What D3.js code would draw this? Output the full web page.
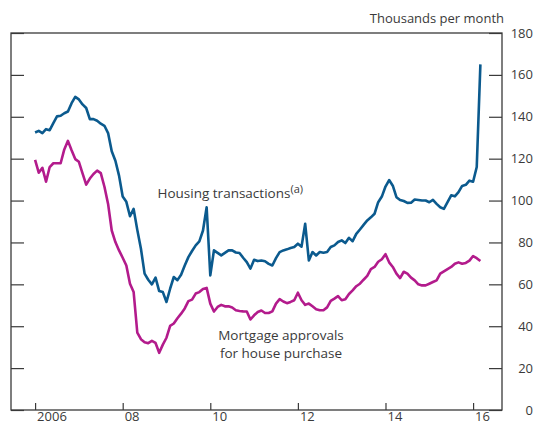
<!DOCTYPE html>
<html>
<head>
<meta charset="utf-8">
<script src="https://cdn.jsdelivr.net/npm/d3@7"></script>
<style>
  body { margin: 0; background: #fff; }
  text { font-family: "Open Sans", sans-serif; fill: #3a3a3a; }
</style>
</head>
<body>
<svg id="chart" width="536" height="430"></svg>
<script>
// monthly, Jan 2006 - Mar 2016 (thousands per month)
var startYear = 2006;

var housingTransactions = [
  132.5, 133.3, 132.2, 134.1, 133.6, 137, 140.2, 140.5, 141.7, 142.5, 146.5, 149.5,
  148.3, 145.9, 144.2, 138.9, 138.9, 138.1, 136.7, 135.7, 132.2, 123.5, 119, 111.9,
  101.9, 99.4, 92.5, 96, 86, 77, 65.1, 62.2, 60, 63.2, 56.8, 56.3,
  51.6, 57.9, 63.5, 62, 64.6, 69, 73, 75.9, 78.6, 80.5, 85.7, 96.8,
  64.3, 76.2, 75, 73.8, 75, 76.2, 76.2, 75.2, 75, 72.7, 70.6, 67.5,
  71.7, 71.1, 71.4, 71, 69.8, 69, 72.5, 75.4, 76.2, 76.7, 77.3, 77.8,
  79.4, 78, 88.9, 71.4, 75.4, 73.8, 75.4, 75.1, 75.4, 77.8, 78.6, 80.2,
  81, 79.7, 82.2, 80.6, 84.1, 86.2, 88.4, 90.5, 92, 93.7, 99.2, 101.9,
  106.7, 109.8, 107.1, 101.6, 100.3, 99.8, 98.9, 99, 100.5, 100.3, 100, 100,
  99.2, 100.3, 98.4, 96.8, 96, 99.2, 102.5, 102, 104, 107, 107.5, 109.5,
  109, 116, 165
];

var mortgageApprovals = [
  119.4, 113.3, 115.6, 109, 116, 117.8, 117.8, 117.8, 124.4, 128.5, 124, 119.8,
  118.5, 113, 107.6, 110.5, 112.7, 114.3, 113.1, 106.6, 98.4, 85.7, 80.2, 76.2,
  72.7, 69, 60.3, 56.3, 37, 33.8, 32.4, 31.9, 33, 32, 27.3, 31.2,
  34.5, 40.2, 41.3, 43.8, 46, 48.5, 52, 52.7, 55.6, 56.3, 57.8, 58.3,
  50.8, 47, 49.2, 50.2, 49.5, 49.5, 48.9, 47.6, 47.3, 47.1, 47, 43.2,
  45.2, 46.8, 47.5, 46.3, 46.3, 47.1, 50.8, 52.9, 51.8, 51, 51.6, 52.4,
  56, 52.4, 50.2, 50.8, 49.5, 48.1, 47.6, 47.6, 49, 52.1, 53.2, 54.4,
  52.4, 52.9, 55.4, 57.1, 59.1, 60.3, 62.2, 64, 67.3, 68.3, 70.8, 72,
  74.4, 70.5, 68.3, 65.1, 63, 66, 65.1, 63.2, 61.9, 60, 59.5, 59.5,
  60.3, 61.1, 61.9, 65.1, 66.2, 67.3, 68.3, 69.8, 70.5, 69.8, 70.2, 71.3,
  73.5, 72.5, 71.1
];

var xTicks = [2006, 2008, 2010, 2012, 2014, 2016];
var xTickLabels = ["2006", "08", "10", "12", "14", "16"];
var yTicks = [0, 20, 40, 60, 80, 100, 120, 140, 160, 180];

var margin = {left: 11, right: 502, top: 33, bottom: 410};

var svg = d3.select("#chart");

var x = d3.scaleLinear()
  .domain([2005.45, 2016.66])
  .range([margin.left, margin.right]);

var y = d3.scaleLinear()
  .domain([0, 180])
  .range([margin.bottom, margin.top]);

var monthTime = function(i) { return startYear + i / 12; };

// inward ticks on the right and left
var yRight = svg.append("g")
  .attr("transform", "translate(" + margin.right + ",0)")
  .call(d3.axisLeft(y).tickValues(yTicks).tickSize(13).tickFormat(""));
yRight.select(".domain").remove();
yRight.selectAll("line").attr("stroke", "#3a3a3a").attr("stroke-width", 1.2);

var yLeft = svg.append("g")
  .attr("transform", "translate(" + margin.left + ",0)")
  .call(d3.axisRight(y).tickValues(yTicks).tickSize(13).tickFormat(""));
yLeft.select(".domain").remove();
yLeft.selectAll("line").attr("stroke", "#3a3a3a").attr("stroke-width", 1.2);

svg.append("g")
  .selectAll("text")
  .data(yTicks)
  .enter().append("text")
  .attr("x", 533)
  .attr("y", d => y(d))
  .attr("dy", "0.35em")
  .attr("text-anchor", "end")
  .attr("font-size", 13)
  .text(d => d);

// x ticks, pointing up from the bottom
var xAxis = svg.append("g")
  .attr("transform", "translate(0," + margin.bottom + ")")
  .call(d3.axisTop(x).tickValues(xTicks).tickSize(7).tickFormat(""));
xAxis.select(".domain").remove();
xAxis.selectAll("line").attr("stroke", "#3a3a3a").attr("stroke-width", 1.2);

svg.append("g")
  .selectAll("text")
  .data(xTicks)
  .enter().append("text")
  .attr("x", d => x(d) + 2)
  .attr("y", 420.5)
  .attr("font-size", 13)
  .text((d, i) => xTickLabels[i]);

// frame
svg.append("rect")
  .attr("x", margin.left)
  .attr("y", margin.top)
  .attr("width", margin.right - margin.left)
  .attr("height", margin.bottom - margin.top)
  .attr("fill", "none")
  .attr("stroke", "#3a3a3a")
  .attr("stroke-width", 1.3);

var line = d3.line()
  .x((d, i) => x(monthTime(i)))
  .y(d => y(d));

svg.append("path")
  .datum(mortgageApprovals)
  .attr("fill", "none")
  .attr("stroke", "#b31b8c")
  .attr("stroke-width", 2.6)
  .attr("stroke-linejoin", "round")
  .attr("d", line);

svg.append("path")
  .datum(housingTransactions)
  .attr("fill", "none")
  .attr("stroke", "#0b5a8e")
  .attr("stroke-width", 2.6)
  .attr("stroke-linejoin", "round")
  .attr("d", line);

// labels
svg.append("text")
  .attr("x", 504)
  .attr("y", 23)
  .attr("text-anchor", "end")
  .attr("font-size", 13)
  .text("Thousands per month");

var ht = svg.append("text")
  .attr("x", 157.5)
  .attr("y", 198)
  .attr("font-size", 13.5)
  .text("Housing transactions");
ht.append("tspan")
  .attr("font-size", 11)
  .attr("dy", -5)
  .text("(a)");

svg.append("text")
  .attr("x", 281)
  .attr("y", 339.5)
  .attr("text-anchor", "middle")
  .attr("font-size", 13.5)
  .text("Mortgage approvals");

svg.append("text")
  .attr("x", 281)
  .attr("y", 358)
  .attr("text-anchor", "middle")
  .attr("font-size", 13.5)
  .text("for house purchase");
</script>
</body>
</html>
